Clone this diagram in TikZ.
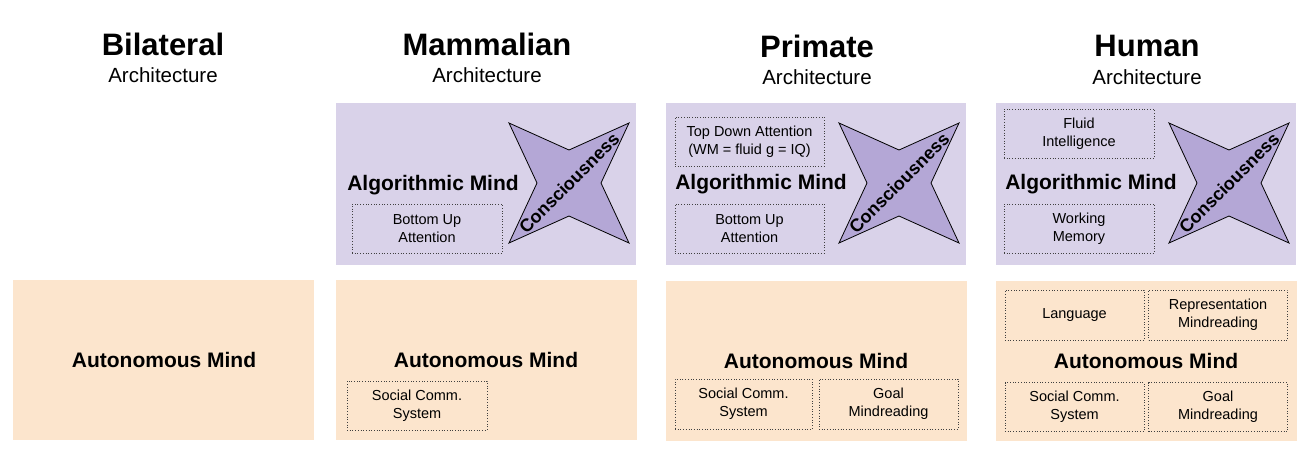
\documentclass[tikz,border=0pt]{standalone}
\usepackage{fontspec}
\setmainfont{Liberation Sans}
\usetikzlibrary{positioning}

\definecolor{algofill}{HTML}{D9D2E9}
\definecolor{starfill}{HTML}{B4A7D6}
\definecolor{autofill}{HTML}{FCE5CD}

\begin{document}
\begin{tikzpicture}[
    x=1pt, y=-1pt,
    title/.style={font=\fontsize{31}{36}\selectfont\bfseries},
    subtitle/.style={font=\fontsize{20.5}{24}\selectfont},
    algobox/.style={rectangle, fill=algofill, minimum width=300pt, minimum height=162pt, inner sep=0pt},
    autobox/.style={rectangle, fill=autofill, minimum width=301pt, minimum height=160pt, inner sep=0pt},
    mind/.style={font=\fontsize{21}{25}\selectfont\bfseries},
    part/.style={rectangle, draw=black!75, dotted, line width=0.7pt, minimum height=49pt, align=center, inner sep=0pt, font=\fontsize{14.5}{18}\selectfont},
    star/.style={draw, fill=starfill, line width=0.8pt, line join=miter},
    conscious/.style={rotate=45, font=\fontsize{18}{22}\selectfont\bfseries}
]
\useasboundingbox (0,0) rectangle (1305,451);

% Titles
\node[title] (t1) at (163,44) {Bilateral};
\node[subtitle] (s1) at (163,75) {Architecture};
\node[title] (t2) at (487,44) {Mammalian};
\node[subtitle] (s2) at (487,75) {Architecture};
\node[title] (t3) at (817,46) {Primate};
\node[subtitle] (s3) at (817,77) {Architecture};
\node[title] (t4) at (1147,46) {Human};
\node[subtitle] (s4) at (1147,77) {Architecture};

% Bilateral
\node[autobox] (auto1) at (163.5,360) {};
\node[mind] (am1) at (164,360) {Autonomous Mind};

% Mammalian
\node[algobox] (algo2) at (486,184) {};
\node[autobox] (auto2) at (486.5,360) {};
\draw[star] (569,183) +(-60,-60) -- +(0,-33) -- +(60,-60) -- +(32,0) -- +(60,60) -- +(0,33) -- +(-60,60) -- +(-32,0) -- cycle;
\node[conscious] (c2) at (569,183) {Consciousness};
\node[mind] (alg2) at (433,185) {Algorithmic Mind};
\node[part, minimum width=150pt] (bu2) at (427,228.5) {Bottom Up\\Attention};
\node[mind] (am2) at (486,360) {Autonomous Mind};
\node[part, minimum width=140pt] (sc2) at (417,405.5) {Social Comm.\\System};

% Primate
\node[algobox] (algo3) at (816,184) {};
\node[autobox] (auto3) at (816,361) {};
\draw[star] (899,183) +(-60,-60) -- +(0,-33) -- +(60,-60) -- +(32,0) -- +(60,60) -- +(0,33) -- +(-60,60) -- +(-32,0) -- cycle;
\node[conscious] (c3) at (899,183) {Consciousness};
\node[part, minimum width=149pt] (td3) at (749.5,141.5) {Top Down Attention\\(WM = fluid g = IQ)};
\node[mind] (alg3) at (761,184) {Algorithmic Mind};
\node[part, minimum width=149pt] (bu3) at (749.5,228.5) {Bottom Up\\Attention};
\node[mind] (am3) at (816,361) {Autonomous Mind};
\node[part, minimum width=137pt, minimum height=50pt] (sc3) at (743.5,404) {Social Comm.\\System};
\node[part, minimum width=139pt, minimum height=50pt] (gm3) at (888.5,404) {Goal\\Mindreading};

% Human
\node[algobox] (algo4) at (1146,183.5) {};
\node[autobox] (auto4) at (1146,361) {};
\draw[star] (1229,183) +(-60,-60) -- +(0,-33) -- +(60,-60) -- +(32,0) -- +(60,60) -- +(0,33) -- +(-60,60) -- +(-32,0) -- cycle;
\node[conscious] (c4) at (1229,183) {Consciousness};
\node[part, minimum width=150pt] (fi4) at (1079,133.5) {Fluid\\Intelligence};
\node[mind] (alg4) at (1091,184) {Algorithmic Mind};
\node[part, minimum width=150pt] (wm4) at (1079,228.5) {Working\\Memory};
\node[part, minimum width=139pt, minimum height=50pt] (la4) at (1074.5,315) {Language};
\node[part, minimum width=139pt, minimum height=50pt] (rm4) at (1218,315) {Representation\\Mindreading};
\node[mind] (am4) at (1146,361) {Autonomous Mind};
\node[part, minimum width=139pt] (sc4) at (1074.5,407) {Social Comm.\\System};
\node[part, minimum width=139pt] (gm4) at (1218,407) {Goal\\Mindreading};

\end{tikzpicture}
\end{document}
